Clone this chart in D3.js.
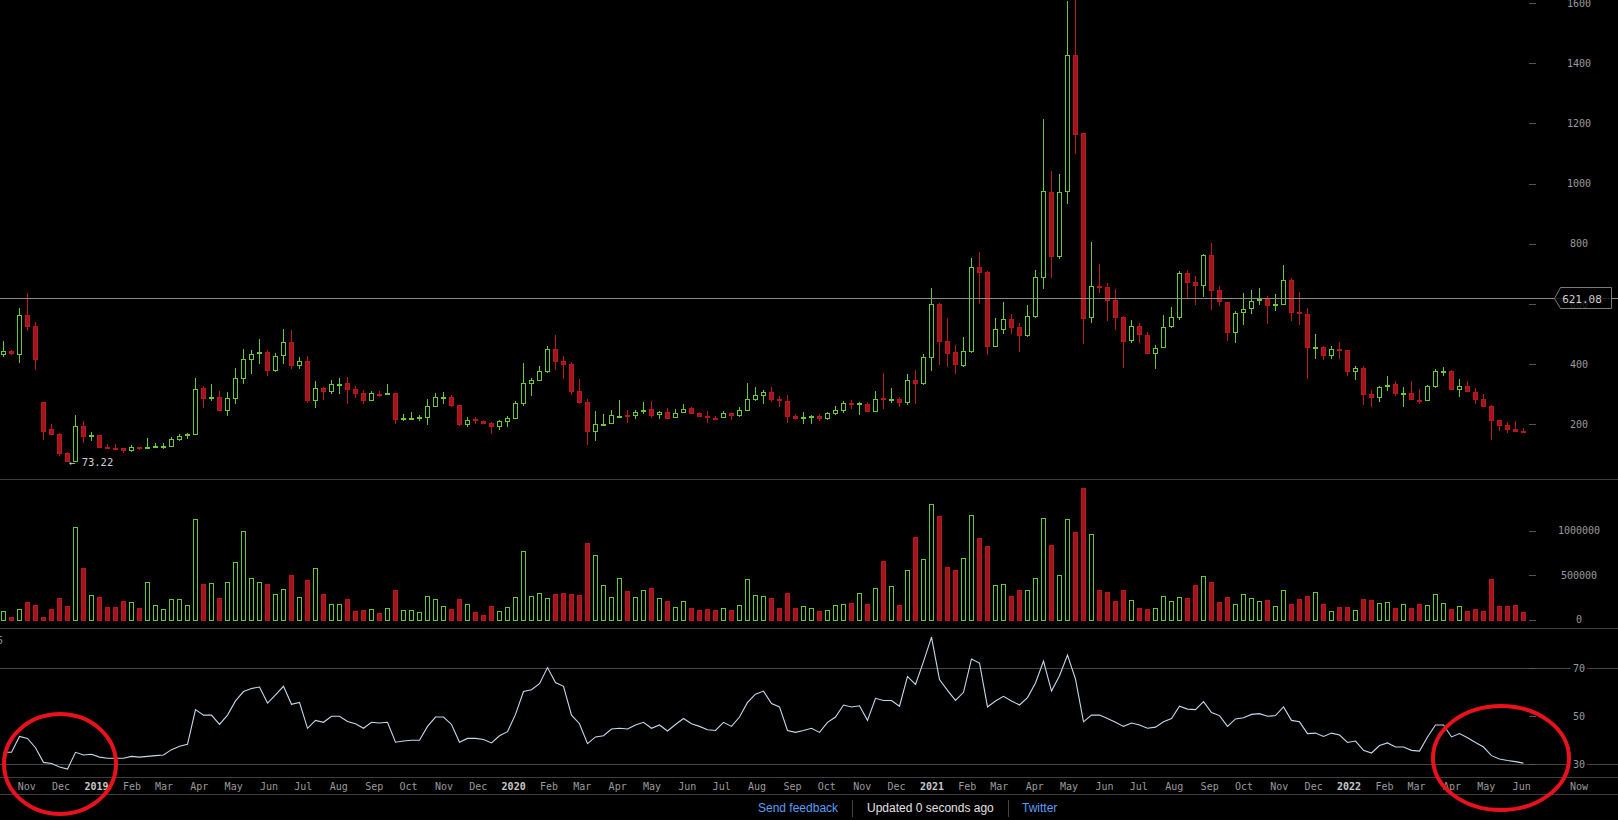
<!DOCTYPE html>
<html><head><meta charset="utf-8">
<script src="https://cdn.jsdelivr.net/npm/d3@7"></script>
<style>html,body{margin:0;padding:0;background:#000;overflow:hidden}svg{display:block}</style>
</head><body>
<svg id="c" width="1618" height="820"></svg>
<script>
// ---- DATA (weekly candles, first week starting Monday 2018-10-08) ----
const firstWeek = "2018-10-08";
const opens = [432,443,435,563,527,273,184,168,105,79,
194,163,163,123,121,120,115,124,122,126,
127,129,152,163,168,321,289,291,249,288,
355,418,436,439,381,429,473,398,410,282,
322,312,334,336,317,303,282,302,302,303,
219,219,224,225,261,289,290,263,202,218,
211,204,195,212,222,272,338,347,376,449,
410,400,311,274,179,201,205,228,230,231,
248,250,233,240,223,240,253,236,227,222,
223,236,230,249,285,298,306,283,276,228,
222,228,228,222,237,249,270,269,269,245,
287,283,284,275,347,338,425,600,476,440,
397,445,721,705,461,517,549,522,498,560,
690,971,760,974,1426,1167,555,659,655,612,
555,479,525,496,438,456,528,555,702,673,
662,762,645,605,506,572,585,612,615,598,
601,678,572,565,455,457,431,450,446,378,
386,301,290,326,333,303,303,281,280,328,
375,376,318,326,306,283,261,213,198,183,
179];
const highs = [477,447,587,636,541,273,201,171,109,231,
211,174,163,134,134,120,131,124,154,138,
137,157,168,171,355,327,334,311,307,387,
450,447,483,447,436,516,512,422,426,343,
325,347,354,357,328,314,310,311,334,303,
234,241,231,284,303,306,297,263,223,223,
214,209,214,228,277,404,353,394,460,497,
427,407,351,283,244,234,248,281,248,248,
274,277,244,254,251,266,256,240,244,227,
243,236,257,337,323,314,323,293,297,234,
240,230,233,242,262,276,280,275,273,310,
369,321,290,366,380,432,652,603,553,462,
490,752,772,708,553,606,566,535,595,711,
1214,1042,1032,1606,1640,1167,805,731,669,649,
559,546,535,507,462,562,589,709,713,693,
766,802,659,605,575,635,646,653,626,633,
729,685,639,585,500,460,460,473,446,394,
395,313,326,359,343,323,343,316,331,385,
389,379,350,343,321,301,264,213,208,211,
187];
const lows = [425,431,405,511,380,148,164,96,73.22,76,
139,144,122,118,115,106,108,115,122,126,
118,126,146,152,165,254,278,244,229,267,
335,368,401,362,375,401,383,383,272,255,
281,302,302,269,289,269,278,291,298,202,
212,219,210,198,259,268,259,195,191,201,
202,168,181,191,222,261,294,344,372,380,
351,297,268,131,145,199,205,223,205,217,
235,221,219,218,223,240,233,225,205,215,
223,215,223,244,279,269,275,259,205,215,
202,202,212,215,231,239,252,232,241,241,
251,272,256,265,268,332,378,398,391,368,
391,438,600,430,458,501,500,441,491,554,
651,687,750,933,1099,468,538,635,544,514,
388,471,471,432,385,456,521,545,621,597,
624,581,592,478,471,531,567,597,534,577,
597,544,531,352,418,415,418,418,362,348,
265,259,273,312,295,259,283,269,280,322,
361,318,292,309,267,256,148,178,172,178,
172];
const closes = [443,436,563,528,416,179,169,106,79,194,
162,165,126,122,119,115,125,121,124,128,
128.5,150,161,168,316,289,291,248,287,353,
416,434,439,381,426,473,398,410,282,319,
312,333,335,318,305,282,303,301,303,219,
220,221,225,261,290,290,265,202,213,217,
204,195,210,221,271,336,347,376,449,410,
401,312,275,179,201,202,230,229,229,242,
249,232,240,221,236,250,239,229,225,220,
236,230,246,284,296,306,285,282,229,220,
223,229,222,236,246,270,268,270,245,285,
285,284,274,346,338,424,600,478,438,401,
442,721,707,461,515,549,524,498,559,688,
974,760,971,1426,1166,554,658,655,614,558,
478,525,499,438,452,522,555,702,672,662,
762,647,608,506,569,582,608,615,597,599,
678,574,570,456,456,431,449,449,378,386,
302,290,323,332,303,304,283,280,326,376,
376,318,326,309,285,262,215,199,185,178,
178];
const volumes = [94000,30000,120000,199000,165000,30000,120000,243000,154000,1041000,
581000,277000,255000,142000,142000,210000,199000,131000,423000,165000,
120000,232000,232000,165000,1131000,401000,412000,243000,423000,648000,
996000,468000,423000,401000,288000,345000,502000,255000,446000,581000,
288000,176000,176000,232000,97000,109000,120000,75000,131000,333000,
109000,109000,86000,266000,232000,154000,120000,232000,176000,86000,
52000,154000,97000,142000,255000,772000,266000,300000,243000,288000,
300000,288000,277000,861000,727000,390000,255000,468000,322000,255000,
333000,356000,243000,210000,142000,210000,131000,109000,120000,109000,
131000,109000,165000,457000,277000,266000,243000,131000,300000,131000,
154000,131000,97000,109000,165000,176000,187000,300000,176000,356000,
659000,378000,165000,558000,929000,682000,1300000,1165000,592000,558000,
693000,1176000,918000,828000,390000,401000,266000,333000,333000,468000,
1142000,839000,502000,1131000,985000,1479000,963000,333000,311000,210000,
333000,221000,131000,120000,131000,266000,210000,255000,243000,390000,
491000,423000,199000,255000,176000,288000,243000,210000,221000,154000,
333000,176000,232000,266000,311000,176000,97000,142000,142000,109000,
232000,221000,187000,199000,131000,176000,131000,176000,165000,288000,
187000,120000,154000,97000,120000,97000,457000,154000,154000,165000,
86000];
const rsi = [35.0,35.0,41.6,40.8,36.9,30.8,30.3,28.9,28.0,35.0,
33.9,34.2,33.0,32.5,32.5,32.5,33.3,33.0,33.3,33.6,
33.9,36.1,37.5,38.3,52.8,50.5,50.5,46.6,50.5,56.4,
60.3,61.6,62.2,55.5,58.9,62.5,55.0,55.8,45.0,48.3,
47.5,50.0,50.0,47.8,46.9,45.0,47.5,47.2,47.5,39.2,
39.7,40.0,40.0,45.8,49.7,49.7,46.6,39.2,40.8,40.8,
40.3,38.9,41.9,43.6,50.8,60.3,61.1,63.6,70.3,64.1,
62.5,50.5,46.9,38.6,41.4,41.9,44.7,45.0,44.7,46.4,
47.5,45.0,46.4,43.9,46.6,49.1,46.9,45.8,44.4,44.1,
47.5,45.8,49.7,55.8,59.2,60.5,55.3,53.9,44.1,43.3,
44.1,45.0,43.3,47.5,49.7,54.7,53.9,54.4,48.3,57.5,
56.6,56.6,54.2,66.6,63.3,72.8,83.0,65.3,60.8,56.6,
60.0,73.9,72.2,53.9,56.4,58.3,56.4,54.7,57.8,63.9,
73.0,60.5,66.9,75.5,65.5,47.7,50.5,50.5,49.1,47.5,
45.8,47.2,46.4,45.0,45.5,47.7,49.1,54.2,53.0,52.8,
56.1,51.6,50.3,45.8,48.9,49.4,50.8,51.1,50.0,50.3,
53.9,48.3,47.7,42.8,43.0,41.6,43.0,42.2,39.1,39.7,
35.8,34.7,37.8,38.9,37.2,37.2,35.8,35.5,41.4,46.4,
46.4,41.4,42.8,41.1,39.1,37.2,33.6,32.2,31.6,31.1,
30.5];
const priceTicks = [200,400,600,800,1000,1200,1400,1600];
const volumeTicks = [0,500000,1000000];
const rsiTicks = [30,50,70];
const markerPrice = 621.08;
const footerItems = ["Send feedback","Updated 0 seconds ago","Twitter"];

// ---- LAYOUT ----
const W = 1618, H = 820;
const GREEN = "#6cc83a", RED = "#a3141c", RED_S = "#b8181f";
const MONO = "'DejaVu Sans Mono', monospace";
const svg = d3.select("#c");
svg.append("rect").attr("width", W).attr("height", H).attr("fill", "#000");

const n = closes.length;
const DAY = 864e5;
const start = new Date(firstWeek + "T00:00:00Z");
const weeks = d3.utcMonday.range(start, d3.utcDay.offset(start, 7 * n));

const x = d3.scaleUtc()
  .domain([new Date(Date.UTC(2019,0,1)), new Date(Date.UTC(2022,0,1))])
  .range([96.5, 96.5 + 1096 * 8 / 7]);
const cx = i => Math.round(x(new Date(+weeks[i] + 3.5 * DAY)));

const yP = d3.scaleLinear().domain([0, 1600]).range([484.5, 2.9]);
const yV = d3.scaleLinear().domain([0, 1000000]).range([619.7, 530.7]);
const yR = d3.scaleLinear().domain([30, 70]).range([764.3, 668.3]);
const up = i => closes[i] >= opens[i];
const rnd = v => Math.round(v) + 0.5;

const defs = svg.append("defs");
defs.append("clipPath").attr("id", "clipP").append("rect").attr("x", 0).attr("y", 0).attr("width", W).attr("height", 479);
defs.append("clipPath").attr("id", "clipV").append("rect").attr("x", 0).attr("y", 480).attr("width", W).attr("height", 148);

// separators / gridlines
const lineC = "#3d3d3d";
[479.5, 628.5, 777.5, 794.5].forEach(y =>
  svg.append("line").attr("x1", 0).attr("x2", W).attr("y1", y).attr("y2", y).attr("stroke", lineC));
rsiTicks.filter(t => t !== 50).forEach(t =>
  svg.append("line").attr("x1", 0).attr("x2", W).attr("y1", rnd(yR(t))).attr("y2", rnd(yR(t))).attr("stroke", "#444"));

// ---- CANDLES ----
const idx = d3.range(n);
const gP = svg.append("g").attr("clip-path", "url(#clipP)").attr("shape-rendering", "crispEdges");
gP.selectAll("line.w").data(idx).join("line").attr("class", "w")
  .attr("x1", i => cx(i) + 0.5).attr("x2", i => cx(i) + 0.5)
  .attr("y1", i => Math.round(yP(highs[i]))).attr("y2", i => Math.round(yP(lows[i])))
  .attr("stroke", i => up(i) ? GREEN : RED_S).attr("stroke-width", 1);
gP.selectAll("rect.b").data(idx).join("rect").attr("class", "b")
  .attr("x", i => cx(i) - 1.5).attr("width", 4)
  .attr("y", i => rnd(yP(Math.max(opens[i], closes[i]))))
  .attr("height", i => Math.max(1, Math.round(yP(Math.min(opens[i], closes[i]))) - Math.round(yP(Math.max(opens[i], closes[i])))))
  .attr("fill", i => up(i) ? "#000" : RED)
  .attr("stroke", i => up(i) ? GREEN : RED_S).attr("stroke-width", 1);

// min label
const minI = d3.minIndex(lows);
svg.append("text").attr("x", cx(minI) + 2).attr("y", yP(lows[minI]) + 4)
  .attr("fill", "#cfcfcf").attr("font-family", MONO).attr("font-size", 10.5)
  .text("\u2190 " + lows[minI].toFixed(2));

// marker line
const my = rnd(yP(markerPrice));
svg.append("line").attr("x1", 0).attr("x2", W).attr("y1", my).attr("y2", my).attr("stroke", "#8a8a8a").attr("stroke-width", 1);

// ---- VOLUME ----
const gV = svg.append("g").attr("clip-path", "url(#clipV)").attr("shape-rendering", "crispEdges");
gV.selectAll("rect").data(idx).join("rect")
  .attr("x", i => cx(i) - 1.5).attr("width", 4)
  .attr("y", i => rnd(yV(volumes[i])))
  .attr("height", i => Math.max(1, Math.round(yV(0)) - Math.round(yV(volumes[i]))))
  .attr("fill", i => up(i) ? "#000" : RED)
  .attr("stroke", i => up(i) ? GREEN : RED_S).attr("stroke-width", 1);

// ---- RSI ----
svg.append("path").datum(idx)
  .attr("d", d3.line().x(i => cx(i) + 0.5).y(i => yR(rsi[i])))
  .attr("fill", "none").attr("stroke", "#c4d8ec").attr("stroke-width", 1.1);
svg.append("text").attr("x", 3).attr("y", 644).attr("text-anchor", "end")
  .attr("fill", "#9a9a9a").attr("font-family", MONO).attr("font-size", 10).text("5");

// ---- RIGHT AXES ----
function rightAxis(ticks, scale, fmt) {
  const g = svg.append("g");
  ticks.forEach(t => {
    const y = scale(t);
    g.append("line").attr("x1", 1529).attr("x2", 1536).attr("y1", rnd(y)).attr("y2", rnd(y)).attr("stroke", "#555");
    const txt = fmt(t);
    g.append("rect").attr("x", 1579 - txt.length * 3.2 - 2).attr("y", y - 6).attr("width", txt.length * 6.4 + 4).attr("height", 12).attr("fill", "#000");
    g.append("text").attr("x", 1579).attr("y", y + 3.6).attr("text-anchor", "middle")
      .attr("fill", "#9a9a9a").attr("font-family", MONO).attr("font-size", 10).text(txt);
  });
}
rightAxis(priceTicks, yP, d3.format("d"));
rightAxis(volumeTicks, yV, d3.format("d"));
rightAxis(rsiTicks, yR, d3.format("d"));

// marker box
const bx = svg.append("g");
bx.append("path").attr("d", `M1554.5,${my} L1560.5,287.5 L1611.5,287.5 L1611.5,308.5 L1560.5,308.5 Z`)
  .attr("fill", "rgba(0,0,0,0.78)").attr("stroke", "#7a7a7a");
bx.append("text").attr("x", 1582).attr("y", my + 4).attr("text-anchor", "middle")
  .attr("fill", "#cfcfcf").attr("font-family", MONO).attr("font-size", 11).text(markerPrice.toFixed(2));

// ---- X AXIS ----
const months = d3.utcMonth.range(new Date(Date.UTC(2018,10,1)), new Date(Date.UTC(2022,6,1)));
svg.append("g").selectAll("text").data(months).join("text")
  .attr("x", d => x(d)).attr("y", 789.5).attr("text-anchor", "middle")
  .attr("font-family", MONO).attr("font-size", 10)
  .attr("font-weight", d => d.getUTCMonth() === 0 ? "bold" : "normal")
  .attr("fill", d => d.getUTCMonth() === 0 ? "#c8c8c8" : "#9a9a9a")
  .text(d => d.getUTCMonth() === 0 ? d3.utcFormat("%Y")(d) : d3.utcFormat("%b")(d));
svg.append("text").attr("x", 1579).attr("y", 789.5).attr("text-anchor", "middle")
  .attr("font-family", MONO).attr("font-size", 10).attr("fill", "#9a9a9a").text("Now");

// ---- FOOTER ----
const FF = "'Liberation Sans', Arial, sans-serif";
const fx = [758, 867, 1022];
const fc = ["#5b9df5", "#e2e2e2", "#5b9df5"];
footerItems.forEach((t, k) => svg.append("text").attr("x", fx[k]).attr("y", 812)
  .attr("font-family", FF).attr("font-size", 12).attr("fill", fc[k]).text(t));
[852.5, 1008.5].forEach(xx => svg.append("line").attr("x1", xx).attr("x2", xx).attr("y1", 800).attr("y2", 817).attr("stroke", "#444"));

// ---- ANNOTATION ELLIPSES ----
svg.append("ellipse").attr("cx", 60).attr("cy", 764).attr("rx", 56).attr("ry", 50)
  .attr("fill", "none").attr("stroke", "#e8121c").attr("stroke-width", 4);
svg.append("ellipse").attr("cx", 1501).attr("cy", 758).attr("rx", 68).attr("ry", 52)
  .attr("fill", "none").attr("stroke", "#e8121c").attr("stroke-width", 4);
</script>
</body></html>
